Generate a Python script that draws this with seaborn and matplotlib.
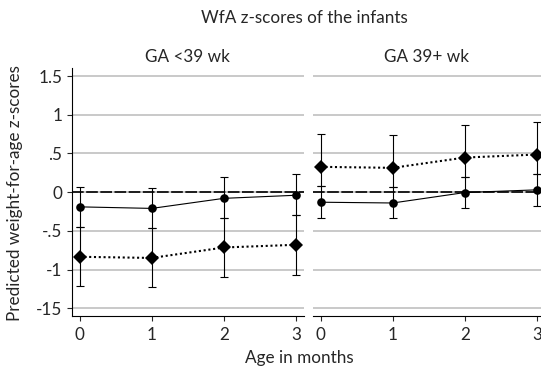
import numpy as np
import pandas as pd
import matplotlib
matplotlib.use("Agg")
import matplotlib.pyplot as plt
import seaborn as sns

# estimates (ages 0-3 months)
ages = [0, 1, 2, 3]
panels = ["GA <39 wk", "GA 39+ wk"]

# circles, solid line
circ_est = {"GA <39 wk": [-0.19, -0.21, -0.08, -0.04],
            "GA 39+ wk": [-0.13, -0.14, -0.005, 0.03]}
circ_lo = {"GA <39 wk": [-0.445, -0.46, -0.33, -0.30],
           "GA 39+ wk": [-0.33, -0.34, -0.21, -0.18]}
circ_hi = {"GA <39 wk": [0.065, 0.055, 0.19, 0.23],
           "GA 39+ wk": [0.078, 0.065, 0.198, 0.232]}

# diamonds, dotted line
diam_est = {"GA <39 wk": [-0.835, -0.85, -0.715, -0.68],
            "GA 39+ wk": [0.327, 0.314, 0.447, 0.486]}
diam_lo = {"GA <39 wk": [-1.215, -1.23, -1.10, -1.07],
           "GA 39+ wk": [0.078, 0.065, 0.198, 0.232]}
diam_hi = {"GA <39 wk": [-0.455, -0.46, -0.33, -0.30],
           "GA 39+ wk": [0.75, 0.736, 0.87, 0.904]}

yticks = [-1.5, -1, -0.5, 0, 0.5, 1, 1.5]
ylabels = ["-15", "-1", "-.5", "0", ".5", "1", "1.5"]

sns.set_style("white")
plt.rcParams["font.family"] = ["Lato", "DejaVu Sans"]
fs = 12.3

W, H = 541, 373
fig = plt.figure(figsize=(W / 100, H / 100), dpi=100)

def px_axes(left, top, width, height):
    return fig.add_axes([left / W, (H - top - height) / H, width / W, height / H])

ax_w, ax_h = 231.6, 247.7
axes = [px_axes(72, 68.3, ax_w, ax_h), px_axes(313, 68.3, ax_w, ax_h)]

for i, (ax, p) in enumerate(zip(axes, panels)):
    for y in yticks:
        ax.axhline(y, color="#c0c0c0", lw=1.2, zorder=0)
    ax.axhline(0, color="black", lw=1.2, linestyle=(0, (7, 1.5)), zorder=1)

    for est, lo, hi, mk, ms, ls, lw in [
        (circ_est[p], circ_lo[p], circ_hi[p], "o", 6.2, "-", 0.8),
        (diam_est[p], diam_lo[p], diam_hi[p], "D", 6.8, (0, (1, 1.3)), 1.5),
    ]:
        est = np.array(est)
        err = [est - np.array(lo), np.array(hi) - est]
        ax.errorbar(ages, est, yerr=err, fmt="none", ecolor="black",
                    elinewidth=0.8, capsize=2.6, capthick=0.8, zorder=2)
        df = pd.DataFrame({"age": ages, "est": est})
        sns.lineplot(data=df, x="age", y="est", ax=ax, color="black",
                     marker=mk, markersize=ms, markeredgewidth=0,
                     linestyle=ls, lw=lw, errorbar=None, zorder=3)

    ax.set_xlim(-0.105, 3.105)
    ax.set_ylim(-1.6, 1.6)
    ax.set_xticks(ages)
    ax.set_xticklabels([str(a) for a in ages])
    ax.set_xlabel("")
    ax.set_ylabel("")
    ax.tick_params(axis="x", length=3.6, width=0.8, pad=4.5, direction="out",
                   bottom=True, labelsize=fs)
    for s in ["top", "right"]:
        ax.spines[s].set_visible(False)
    ax.spines["bottom"].set_linewidth(0.8)
    ax.spines["bottom"].set_color("black")
    if i == 0:
        ax.set_yticks(yticks)
        ax.set_yticklabels(ylabels)
        ax.tick_params(axis="y", length=3.6, width=0.8, pad=3.5,
                       direction="out", left=True, labelsize=fs)
        ax.spines["left"].set_linewidth(0.8)
        ax.spines["left"].set_color("black")
    else:
        ax.set_yticks(yticks)
        ax.tick_params(axis="y", left=False, labelleft=False)
        ax.spines["left"].set_visible(False)
    ax.patch.set_alpha(0)

def px_text(x, y, s, **kw):
    fig.text(x / W, 1 - y / H, s, ha="center", va="center", fontsize=fs, **kw)

px_text(304, 18, "WfA z-scores of the infants")
px_text(187, 57, "GA <39 wk")
px_text(427, 57, "GA 39+ wk")
px_text(299, 358, "Age in months")
px_text(15, 193, "Predicted weight-for-age z-scores", rotation=90)

fig.savefig("out.png", dpi=100)
